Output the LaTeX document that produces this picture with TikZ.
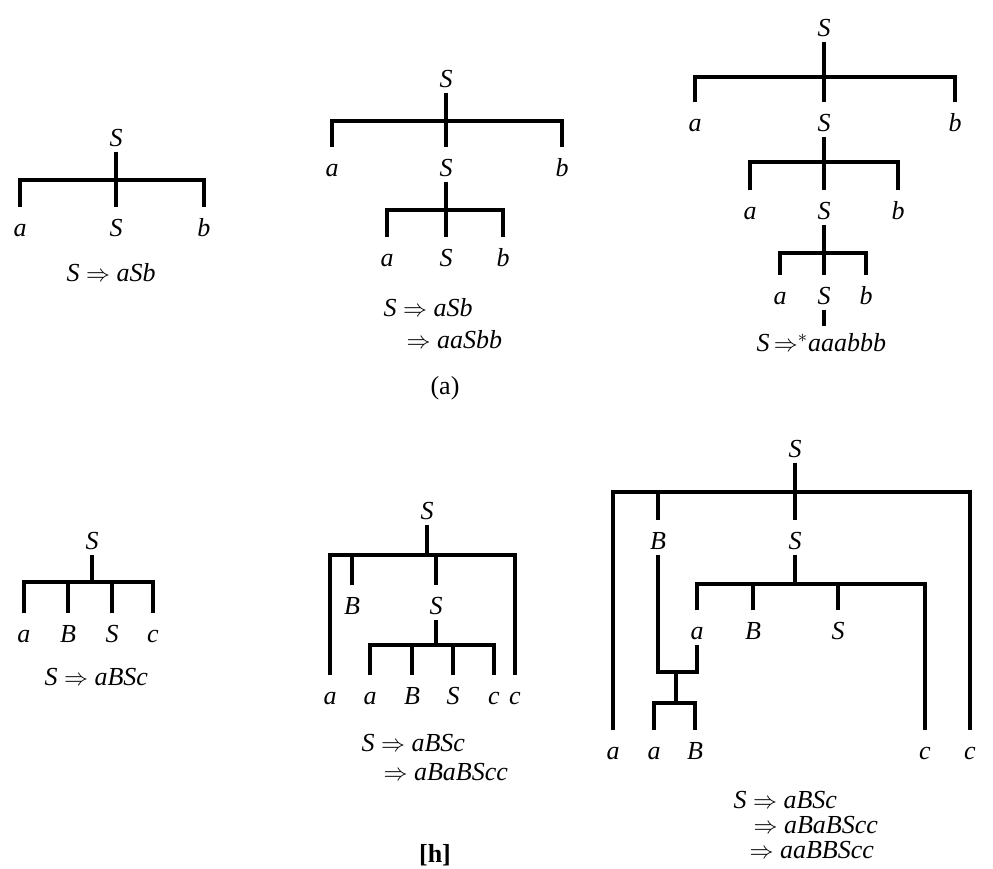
\documentclass[tikz,border=0pt]{standalone}
\usepackage{fontspec}
\setmainfont{Liberation Serif}
\usepackage{tikz}
\tikzstyle{sym}=[font=\fontsize{13}{15}\selectfont\itshape,inner sep=0pt,text height=13.5pt,text depth=2pt,anchor=base]
\tikzstyle{der}=[font=\fontsize{13}{15}\selectfont\itshape,inner sep=0pt,text height=9pt,text depth=0pt,anchor=base west]

\begin{document}
\begin{tikzpicture}[x=0.5pt,y=-0.5pt,line width=1.6pt]
  \tikzstyle{lbl} = [font=\fontsize{13}{15}\selectfont,inner sep=0pt]
  \useasboundingbox (0,0) rectangle (993,869);
  % S => aSb
  \node[sym](S1) at (116,146){S};
  \node[sym](a1) at (20,236){a};\node[sym](S1') at (116,236){S};\node[sym](b1) at (204,236){b};
  \coordinate (k1) at (116,180);
  \draw (a1) |- (k1) -| (b1) (S1) -- (S1');
  \node[der] at (65,281){S $\Rightarrow$ aSb};
  %%%%%%%
  % S => aSb => aaSbb
  \node[sym](S2) at (446,87){S};
  \node[sym](a2) at (332,176){a};\node[sym](S2') at (446,176){S};\node[sym](b2) at (562,176){b};
  \node[sym](a2') at (387,266){a};\node[sym](S2'') at (446,266){S};\node[sym](b2') at (503,266){b};
  \coordinate (k2) at (446,121);\coordinate (k2') at (446,210);
  \draw (a2) |- (k2) -| (b2) (S2) -- (S2');
  \draw (a2') |- (k2') -| (b2') (S2') -- (S2'');
  \node[der] at (382,316){S $\Rightarrow$ aSb};
  \node[der] at (405,348){$\Rightarrow$ aaSbb};
  \node[lbl] at (445,388){(a)};
  %%%%%%%
  % S =>* aaabbb
  \node[sym](S3) at (824,36){S};
  \node[sym](a3) at (695,131){a};\node[sym](S3') at (824,131){S};\node[sym](b3) at (955,131){b};
  \node[sym](a3') at (750,219){a};\node[sym](S3'') at (824,219){S};\node[sym](b3') at (898,219){b};
  \node[sym](a3'') at (780,304){a};\node[sym](S4'') at (824,304){S};\node[sym](b3'') at (866,304){b};
  \coordinate (k3) at (824,77);\coordinate (k3') at (824,162);\coordinate (k3'') at (824,253);
  \coordinate (e3) at (824,326);
  \draw (a3) |- (k3) -| (b3) (S3) -- (S3');
  \draw (a3') |- (k3') -| (b3') (S3') -- (S3'');
  \draw (a3'') |- (k3'') -| (b3'') (S3'') -- (S4'') -- (e3);
  \node[der] at (755,351){S\,$\Rightarrow\mkern-5mu{}^{*}$aaabbb};
  %%%%%%%
  % S => aBSc
  \node[sym](S4) at (92,549){S};
  \node[sym](a4) at (24,642){a};\node[sym](B4) at (68,642){B};
  \node[sym](S4') at (112,642){S};\node[sym](c4) at (153,642){c};
  \coordinate (k4) at (92,582);
  \draw (a4) |- (k4) -| (c4) (S4) -- (k4) (B4) -- (B4|-k4) (S4') -- (S4'|-k4);
  \node[der] at (43,685){S $\Rightarrow$ aBSc};
  %%%%%%%
  % S => aBSc => aBaBScc
  \node[sym](S5) at (427,519){S};
  \node[sym](a5) at (330,704){a};\node[sym](B5) at (352,614){B};
  \node[sym](S5') at (436,614){S};\node[sym](c5) at (515,704){c};
  \coordinate (k5) at (427,555);
  \draw (a5) |- (k5) -| (c5) (S5) -- (k5) (B5) -- (B5|-k5) (S5') -- (S5'|-k5);
  \node[sym](a5') at (370,704){a};\node[sym](B5') at (412,704){B};
  \node[sym](S5'') at (453,704){S};\node[sym](c5') at (494,704){c};
  \coordinate (k5') at (436,645);
  \draw (a5') |- (k5') -| (c5') (S5') -- (k5') (B5') -- (B5'|-k5') (S5'') -- (S5''|-k5');
  \node[der] at (360,751){S $\Rightarrow$ aBSc};
  \node[der] at (382,780){$\Rightarrow$ aBaBScc};
  \node[lbl,font=\fontsize{13}{15}\selectfont\bfseries] at (435,855){[h]};
  %%%%%%%
  % S => aBSc => aBaBScc => aaBBScc
  \node[sym](S6) at (795,457){S};
  \node[sym](a6) at (613,759){a};\node[sym](B6) at (658,549){B};
  \node[sym](S6') at (795,549){S};\node[sym](c6) at (970,759){c};
  \coordinate (k6) at (795,492);
  \draw (a6) |- (k6) -| (c6) (S6) -- (S6') (B6) -- (B6|-k6);
  \node[sym](a6') at (697,639){a};\node[sym](B6') at (753,639){B};
  \node[sym](S6'') at (838,639){S};\node[sym](c6') at (925,759){c};
  \coordinate (k6') at (795,584);
  \draw (a6') |- (k6') -| (c6') (S6') -- (k6') (B6') -- (B6'|-k6') (S6'') -- (S6''|-k6');
  % the Ba part
  \coordinate (j6) at (676,672);\coordinate (k6'') at (676,703);
  \node[sym](a7) at (654,759){a};\node[sym](B7) at (695,759){B};
  \draw (B6) |- (j6) -| (a6') (j6) -- (k6'');
  \draw (a7) |- (k6'') -| (B7);
  \node[der] at (732,808){S $\Rightarrow$ aBSc};
  \node[der] at (752,833){$\Rightarrow$ aBaBScc};
  \node[der] at (748,858){$\Rightarrow$ aaBBScc};
\end{tikzpicture}
\end{document}
